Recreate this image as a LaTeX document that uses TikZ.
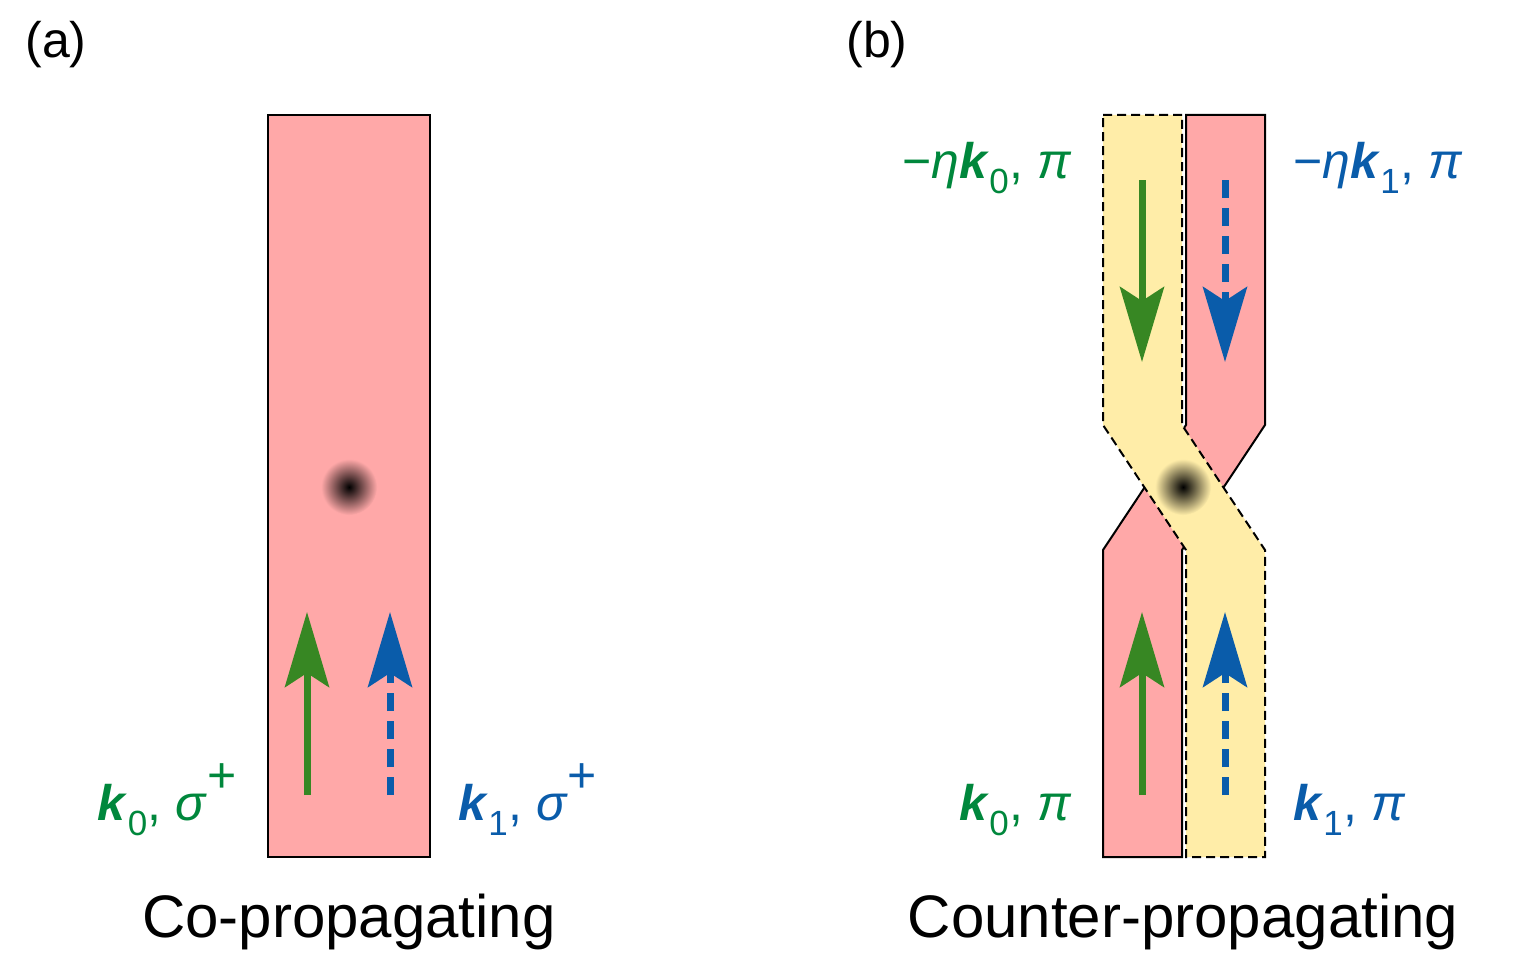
\documentclass[tikz,border=0pt]{standalone}
\usepackage{fontspec}
\setmainfont{Liberation Sans}
\usetikzlibrary{arrows.meta}
\definecolor{bred}{RGB}{255,168,168}
\definecolor{byel}{RGB}{255,237,168}
\definecolor{tgreen}{RGB}{0,135,60}
\definecolor{agreen}{RGB}{55,135,35}
\definecolor{tblue}{RGB}{10,92,170}
\begin{document}
\begin{tikzpicture}[x=1pt,y=-1pt,
  beam/.style={draw=black,line width=2pt},
  arr/.style={line width=7pt,-{Stealth[length=75pt,width=44pt,inset=14pt]}},
  dsh/.style={dash pattern=on 18pt off 10pt},
  lab/.style={font=\fontsize{50}{50}\selectfont},
  captxt/.style={font=\fontsize{60}{60}\selectfont}]
\path[use as bounding box] (0,0) rectangle (1528,979);
% (a)
\node[lab,anchor=west] (la) at (22,45) {(a)};
\node[lab,anchor=west] (lb) at (843,45) {(b)};
\node[beam,fill=bred,minimum width=162pt,minimum height=742pt,inner sep=0pt] (ra) at (349,486) {};
\shade[inner color=black,outer color=bred] (349,487) circle (28pt);
\coordinate (a1s) at (307,795); \coordinate (a1e) at (307,612);
\coordinate (a2s) at (390,795); \coordinate (a2e) at (390,612);
\draw[arr,agreen] (a1s) -- (a1e);
\draw[arr,tblue,dsh] (a2s) -- (a2e);
\node[lab,text=tgreen,anchor=base east] (k0a) at (240,820) {\textbf{\textit{k}}\textsubscript{0}, \textit{σ}\raisebox{0.55em}{+}};
\node[lab,text=tblue,anchor=base west] (k1a) at (455,820) {\textbf{\textit{k}}\textsubscript{1}, \textit{σ}\raisebox{0.55em}{+}};
\node[captxt] (ca) at (349,922) {Co-propagating};
% (b)
\draw[beam,fill=bred] (1186,115) -- (1265,115) -- (1265,425) -- (1182,550) -- (1182,857) -- (1103,857) -- (1103,550) -- (1186,425) -- cycle;
\draw[beam,fill=byel,dash pattern=on 9pt off 5pt] (1103,115) -- (1182,115) -- (1182,425) -- (1265,550) -- (1265,857) -- (1186,857) -- (1186,550) -- (1103,425) -- cycle;
\shade[inner color=black,outer color=byel] (1183,487) circle (28pt);
\coordinate (b1s) at (1142,180); \coordinate (b1e) at (1142,362);
\coordinate (b2s) at (1225,180); \coordinate (b2e) at (1225,362);
\coordinate (b3s) at (1142,795); \coordinate (b3e) at (1142,612);
\coordinate (b4s) at (1225,795); \coordinate (b4e) at (1225,612);
\draw[arr,agreen] (b1s) -- (b1e);
\draw[arr,tblue,dsh] (b2s) -- (b2e);
\draw[arr,agreen] (b3s) -- (b3e);
\draw[arr,tblue,dsh] (b4s) -- (b4e);
\node[lab,text=tgreen,anchor=base east] (k0t) at (1075,178) {−\textit{η}\textbf{\textit{k}}\textsubscript{0}, \textit{π}};
\node[lab,text=tblue,anchor=base west] (k1t) at (1290,178) {−\textit{η}\textbf{\textit{k}}\textsubscript{1}, \textit{π}};
\node[lab,text=tgreen,anchor=base east] (k0b) at (1075,820) {\textbf{\textit{k}}\textsubscript{0}, \textit{π}};
\node[lab,text=tblue,anchor=base west] (k1b) at (1290,820) {\textbf{\textit{k}}\textsubscript{1}, \textit{π}};
\node[captxt] (cb) at (1183,922) {Counter-propagating};
\end{tikzpicture}
\end{document}
